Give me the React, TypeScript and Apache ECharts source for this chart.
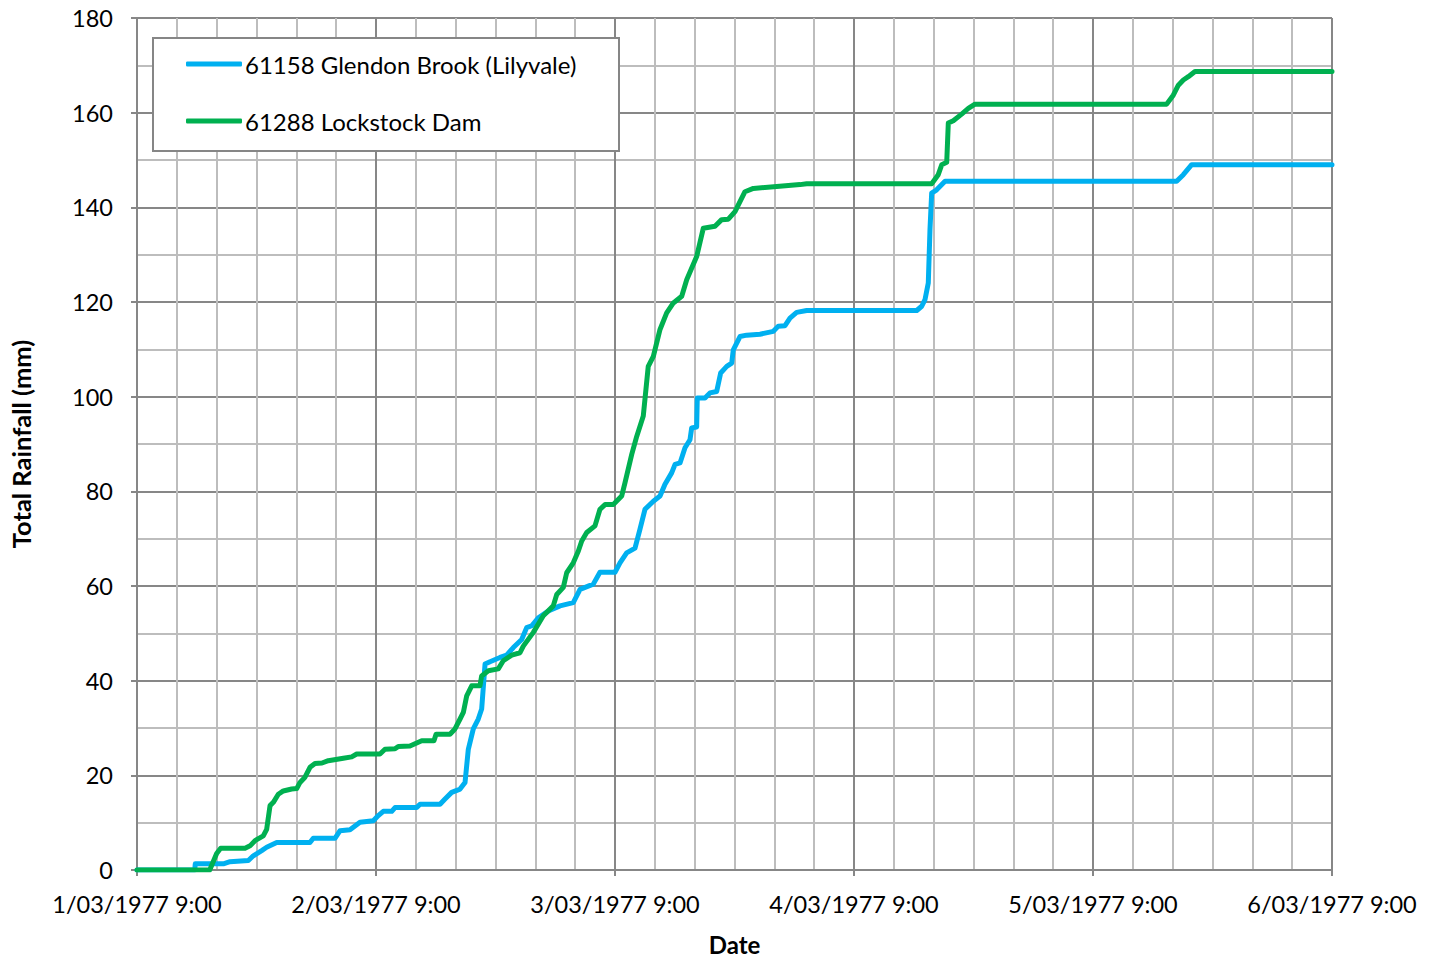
import React, { useEffect, useRef } from "react";
import * as echarts from "echarts";

const dayLabels = [
  "1/03/1977 9:00",
  "2/03/1977 9:00",
  "3/03/1977 9:00",
  "4/03/1977 9:00",
  "5/03/1977 9:00",
  "6/03/1977 9:00",
];

const seriesNames = ["61158 Glendon Brook (Lilyvale)", "61288 Lockstock Dam"];

// hours since 1/03/1977 9:00, cumulative rainfall (mm)
const glendonHours = [
  0, 5.8, 5.85, 8.67, 9.34, 11.18, 11.68, 12.52, 13.02, 14.03, 17.37, 17.7, 19.88, 20.39, 21.39, 22.39,
  23.73, 24.23, 24.73, 25.58, 25.91, 28.09, 28.42, 30.43, 30.93, 31.6, 32.44, 32.94, 33.27, 33.77, 34.27,
  34.61, 34.95, 35.45, 36.45, 37.12, 37.79, 38.63, 39.13, 39.64, 40.3, 41.3, 42.48, 43.81, 44.49, 45.82,
  46.49, 48.0, 48.5, 49.17, 50.01, 50.51, 51.01, 51.85, 52.52, 53.02, 53.69, 54.03, 54.53, 55.03, 55.53,
  55.7, 56.2, 56.26, 57.04, 57.54, 58.21, 58.61, 59.22, 59.72, 59.88, 60.55, 61.22, 62.56, 63.9, 64.4,
  65.07, 65.57, 66.24, 67.25, 78.3, 78.8, 79.13, 79.46, 79.63, 79.8, 80.3, 81.14, 104.4, 105.07, 105.91, 120,
];
const glendonMm = [
  0, 0, 1.3, 1.3, 1.75, 2.0, 3.0, 4.1, 4.8, 5.8, 5.8, 6.7, 6.7, 8.3, 8.5, 10.1,
  10.4, 11.5, 12.4, 12.4, 13.2, 13.2, 13.9, 13.9, 15.0, 16.4, 17.1, 18.5, 25.5, 29.8, 31.9,
  34.0, 43.5, 44.0, 44.9, 45.4, 47.0, 48.7, 51.2, 51.6, 53.3, 54.7, 55.8, 56.5, 59.3, 60.4,
  62.9, 62.9, 64.9, 67.0, 68.0, 72.0, 76.2, 77.9, 79.0, 81.5, 83.9, 85.7, 86.0, 89.2, 90.9,
  93.4, 93.6, 99.7, 99.7, 100.8, 101.1, 105.0, 106.4, 107.1, 109.9, 112.7, 113.0, 113.2, 113.8, 114.9,
  115.0, 116.6, 117.8, 118.2, 118.2, 119.1, 120.5, 124.0, 135.3, 143.0, 143.7, 145.5, 145.5, 146.9, 149.0, 149.0,
];

const lockstockHours = [
  0, 7.3, 8.0, 8.4, 10.85, 11.35, 11.85, 12.68, 13.02, 13.36, 13.69, 14.19, 14.69, 15.53, 16.04, 16.37,
  16.87, 17.37, 17.87, 18.58, 19.21, 20.72, 21.56, 22.06, 24.4, 24.9, 25.91, 26.24, 27.41, 28.59, 29.82,
  30.03, 31.43, 31.93, 32.44, 32.77, 33.11, 33.61, 34.44, 34.61, 35.28, 36.28, 36.78, 37.63, 38.46, 38.79,
  39.8, 40.8, 41.8, 42.15, 42.81, 43.15, 43.81, 44.32, 44.66, 45.16, 45.99, 46.49, 47.0, 47.83, 48.67,
  49.0, 49.68, 50.18, 50.84, 51.34, 51.85, 52.52, 53.19, 53.86, 54.7, 55.2, 56.2, 56.87, 58.04, 58.71,
  59.38, 60.05, 60.55, 61.05, 61.89, 64.24, 66.58, 67.25, 79.8, 80.46, 80.81, 81.31, 81.47, 81.97, 82.81,
  83.48, 84.15, 103.4, 104.06, 104.57, 105.07, 105.57, 106.24, 120,
];
const lockstockMm = [
  0, 0, 3.5, 4.6, 4.6, 5.1, 6.2, 7.2, 8.6, 13.6, 14.3, 16.0, 16.7, 17.1, 17.2, 18.5,
  19.6, 21.7, 22.5, 22.6, 23.1, 23.6, 23.9, 24.5, 24.5, 25.5, 25.6, 26.1, 26.2, 27.3, 27.3,
  28.7, 28.7, 29.8, 31.9, 33.3, 36.8, 38.9, 38.9, 41.0, 42.1, 42.5, 44.2, 45.4, 45.9, 47.3,
  50.2, 53.7, 55.8, 58.2, 59.7, 62.8, 64.9, 67.4, 69.5, 71.3, 72.7, 76.2, 77.2, 77.2, 79.0,
  81.8, 87.8, 91.6, 95.9, 106.4, 108.5, 114.2, 117.7, 119.8, 121.2, 124.7, 129.6, 135.6, 136.0, 137.4,
  137.5, 139.1, 141.2, 143.3, 144.0, 144.4, 144.8, 145.0, 145.0, 146.9, 149.0, 149.5, 157.8, 158.3, 159.7,
  160.9, 161.8, 161.8, 163.7, 165.8, 166.9, 167.6, 168.7, 168.7,
];

const colors = ["#00B0F0", "#00B050"];

const zip = (xs: number[], ys: number[]) => xs.map((x, i) => [x, ys[i]]);

export default function App() {
  const ref = useRef<HTMLDivElement>(null);
  useEffect(() => {
    if (!ref.current) return;
    const chart = echarts.init(ref.current, null, { renderer: "svg" });
    const font = "Lato, 'Open Sans', sans-serif";
    const major = "#878787";
    const minor = "#BDBDBD";
    chart.setOption({
      animation: false,
      backgroundColor: "#ffffff",
      textStyle: { fontFamily: font },
      grid: { left: 137, top: 18, width: 1195, height: 853, containLabel: false },
      xAxis: {
        type: "value",
        min: 0,
        max: 120,
        interval: 24,
        name: "Date",
        nameLocation: "middle",
        nameGap: 62,
        nameTextStyle: { fontFamily: font, fontWeight: "bold", fontSize: 24, color: "#000" },
        axisLine: { show: true, lineStyle: { color: major, width: 2 } },
        axisTick: { show: true, length: 6, lineStyle: { color: major, width: 2 } },
        minorTick: { show: false, splitNumber: 6 },
        axisLabel: {
          margin: 22,
          fontSize: 23.5,
          color: "#000",
          fontFamily: font,
          formatter: (v: number) => dayLabels[Math.round(v / 24)] ?? "",
        },
        splitLine: { show: true, lineStyle: { color: major, width: 2 } },
        minorSplitLine: { show: true, lineStyle: { color: minor, width: 2 } },
      },
      yAxis: {
        type: "value",
        min: 0,
        max: 180,
        interval: 20,
        name: "Total Rainfall (mm)",
        nameLocation: "middle",
        nameGap: 103,
        nameTextStyle: { fontFamily: font, fontWeight: "bold", fontSize: 25.5, color: "#000" },
        axisLine: { show: true, lineStyle: { color: major, width: 2 } },
        axisTick: { show: true, length: 6, lineStyle: { color: major, width: 2 } },
        minorTick: { show: false, splitNumber: 2 },
        axisLabel: { margin: 24, fontSize: 23.5, color: "#000", fontFamily: font },
        splitLine: { show: true, lineStyle: { color: major, width: 2 } },
        minorSplitLine: { show: true, lineStyle: { color: minor, width: 2 } },
      },
      graphic: [
        {
          type: "rect",
          left: 152,
          top: 37,
          shape: { width: 466, height: 113 },
          style: { fill: "#ffffff", stroke: "#868686", lineWidth: 2 },
          z: 50,
        },
      ],
      legend: {
        orient: "vertical",
        left: 186,
        top: 52,
        padding: 0,
        itemWidth: 56,
        itemHeight: 5,
        itemGap: 33,
        icon: "roundRect",
        textStyle: { fontSize: 24, color: "#000", fontFamily: font, padding: [0, 0, 0, -2] },
        data: seriesNames,
        z: 60,
      },
      series: [
        {
          name: seriesNames[0],
          type: "line",
          data: zip(glendonHours, glendonMm),
          showSymbol: false,
          symbol: "none",
          lineStyle: { color: colors[0], width: 5, join: "round", cap: "round" },
          itemStyle: { color: colors[0] },
          z: 3,
        },
        {
          name: seriesNames[1],
          type: "line",
          data: zip(lockstockHours, lockstockMm),
          showSymbol: false,
          symbol: "none",
          lineStyle: { color: colors[1], width: 5, join: "round", cap: "round" },
          itemStyle: { color: colors[1] },
          z: 4,
        },
      ],
    });
    return () => chart.dispose();
  }, []);
  return (
    <div
      ref={ref}
      style={{ position: "fixed", left: 0, top: 0, width: 1439, height: 961 }}
    />
  );
}
